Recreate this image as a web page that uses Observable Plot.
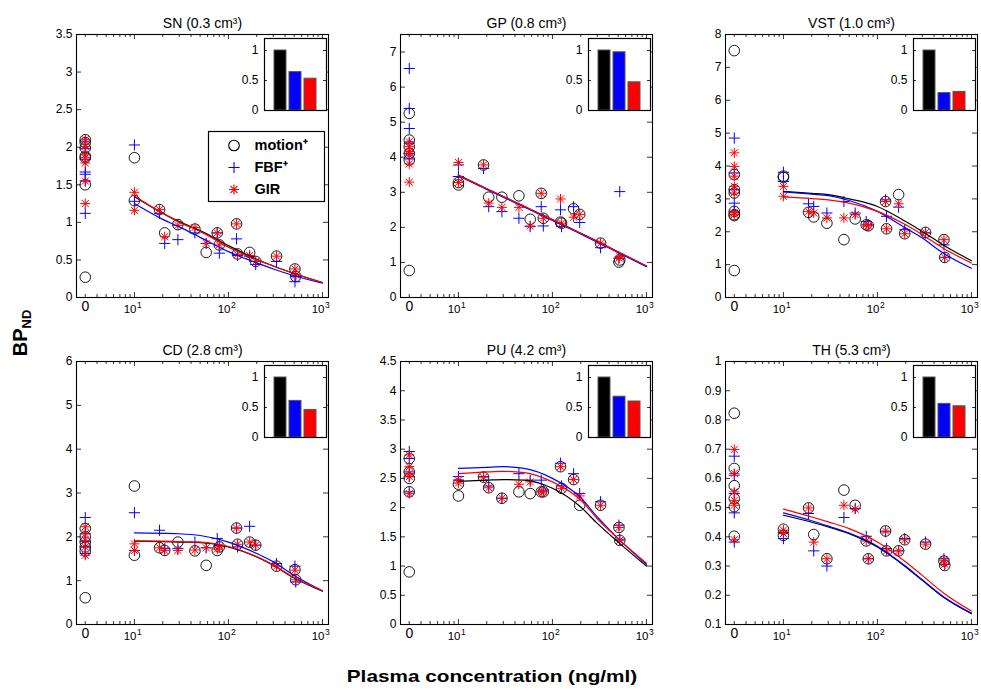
<!DOCTYPE html>
<html><head><meta charset="utf-8">
<script src="https://cdn.jsdelivr.net/npm/d3@7"></script>
<script src="https://cdn.jsdelivr.net/npm/@observablehq/plot@0.6"></script>
<style>
body{margin:0;background:#fff;}
#fig{position:relative;width:981px;height:695px;font-family:"Liberation Sans",Arial,Helvetica,sans-serif;color:#000;}
.ax{position:absolute;font-weight:bold;white-space:nowrap;line-height:20px;}
</style></head><body><div id="fig"></div>
<script>
// ---------- data ----------
const panelNames = ["SN", "GP", "VST", "CD", "PU", "TH"];
const panelVolumes = ["0.3", "0.8", "1.0", "2.8", "4.2", "5.3"];
const yMin = [0, 0, 0, 0, 0, 0.1];
const yMax = [3.5, 7.5, 8, 6, 4.5, 1];
const yTicks = [
  [0, 0.5, 1, 1.5, 2, 2.5, 3, 3.5],
  [0, 1, 2, 3, 4, 5, 6, 7],
  [0, 1, 2, 3, 4, 5, 6, 7, 8],
  [0, 1, 2, 3, 4, 5, 6],
  [0, 0.5, 1, 1.5, 2, 2.5, 3, 3.5, 4, 4.5],
  [0.1, 0.2, 0.3, 0.4, 0.5, 0.6, 0.7, 0.8, 0.9, 1]
];
const zeroAt = 3;                 // where the "0" (baseline) column sits on the log axis
const zeroLabel = "0";
const decadeTicks = [10, 100, 1000];
const decadeBase = "10";
const decadeExps = ["1", "2", "3"];
const minorTicks = [3, 4, 5, 6, 7, 8, 9, 20, 30, 40, 50, 60, 70, 80, 90, 200, 300, 400, 500, 600, 700, 800, 900];

const methods = ["motion", "FBF", "GIR"];
const legendLabels = ["motion⁺", "FBF⁺", "GIR"];
const methodColors = ["#000000", "#0000ff", "#ff0000"];

// post-dose plasma concentrations (ng/ml)
const conc = [10, 10, 18.5, 21, 29, 44, 58, 76, 80, 122, 125, 168, 195, 325, 510, 520];
// x positions where the fitted curves were read
const curveX = [10, 20, 30, 50, 100, 200, 300, 500, 1000];

// SN
const SN_base_motion = [2.10, 2.06, 1.99, 1.88, 1.86, 1.50, 0.27];
const SN_base_FBF = [2.08, 1.98, 1.84, 1.67, 1.64, 1.55, 1.12];
const SN_base_GIR = [2.10, 2.01, 1.90, 1.86, 1.79, 1.55, 1.25];
const SN_motion = [1.29, 1.86, 1.17, 0.86, 0.97, 0.91, 0.60, 0.86, 0.70, 0.98, 0.58, 0.60, 0.48, 0.55, 0.38, 0.28];
const SN_FBF = [1.28, 2.03, 1.12, 0.72, 0.77, 0.86, 0.72, 0.86, 0.59, 0.78, 0.56, 0.55, 0.44, 0.48, 0.21, 0.28];
const SN_GIR = [1.16, 1.40, 1.17, 0.81, 0.96, 0.93, 0.72, 0.86, 0.70, 0.98, 0.57, 0.56, 0.48, 0.55, 0.38, 0.30];
const SN_fit_motion = [1.34, 1.12, 1.01, 0.89, 0.69, 0.51, 0.42, 0.32, 0.20];
const SN_fit_FBF = [1.25, 1.04, 0.94, 0.80, 0.61, 0.46, 0.38, 0.29, 0.19];
const SN_fit_GIR = [1.35, 1.12, 1.00, 0.88, 0.67, 0.50, 0.42, 0.32, 0.20];

// GP
const GP_base_motion = [5.25, 4.49, 4.30, 4.11, 3.92, 0.77];
const GP_base_FBF = [6.53, 5.39, 4.82, 4.40, 4.11, 3.95];
const GP_base_GIR = [4.44, 4.30, 4.16, 4.06, 3.81, 3.29];
const GP_motion = [3.21, 3.28, 3.78, 2.86, 2.86, 2.90, 2.23, 2.97, 2.26, 2.15, 2.12, 2.53, 2.37, 1.55, 1.01, 1.07];
const GP_FBF = [3.45, 3.78, 3.68, 2.59, 2.45, 2.26, 2.02, 2.59, 2.04, 2.50, 2.02, 2.59, 2.14, 1.42, 1.12, 3.02];
const GP_GIR = [3.28, 3.85, 3.78, 2.69, 2.57, 2.57, 2.04, 2.97, 2.26, 2.81, 2.12, 2.29, 2.37, 1.55, 1.12, 1.17];
const GP_fit_motion = [3.49, 3.10, 2.88, 2.60, 2.22, 1.83, 1.60, 1.30, 0.90];
const GP_fit_FBF = [3.47, 3.08, 2.86, 2.58, 2.20, 1.81, 1.58, 1.28, 0.88];
const GP_fit_GIR = [3.49, 3.10, 2.88, 2.60, 2.22, 1.83, 1.60, 1.30, 0.90];

// VST
const VST_base_motion = [7.51, 3.74, 3.28, 3.18, 2.62, 2.52, 2.49, 0.82];
const VST_base_FBF = [4.85, 3.79, 3.28, 2.87, 2.60];
const VST_base_GIR = [4.40, 3.99, 3.69, 3.38, 3.18, 2.57, 2.52];
const VST_motion = [3.69, 3.65, 2.59, 2.45, 2.26, 1.76, 2.39, 2.21, 2.18, 2.92, 2.09, 3.13, 1.94, 1.98, 1.76, 1.22];
const VST_FBF = [3.81, 3.53, 2.85, 2.77, 2.57, 2.92, 2.57, 2.31, 2.21, 2.97, 2.47, 2.75, 2.06, 1.96, 1.60, 1.22];
const VST_GIR = [3.38, 3.08, 2.62, 2.57, 2.42, 2.42, 2.52, 2.21, 2.18, 2.92, 2.09, 2.85, 1.94, 1.98, 1.76, 1.22];
const VST_fit_motion = [3.23, 3.17, 3.13, 3.00, 2.77, 2.31, 2.01, 1.60, 1.12];
const VST_fit_FBF = [3.21, 3.14, 3.10, 2.95, 2.62, 2.11, 1.81, 1.35, 0.89];
const VST_fit_GIR = [3.06, 3.01, 2.97, 2.87, 2.62, 2.21, 1.91, 1.50, 1.05];

// CD
const CD_base_motion = [2.19, 2.00, 1.88, 1.77, 1.68, 0.61];
const CD_base_FBF = [2.44, 2.07, 1.90, 1.77, 1.62];
const CD_base_GIR = [2.23, 2.07, 1.92, 1.77, 1.58];
const CD_motion = [1.58, 3.16, 1.75, 1.69, 1.88, 1.68, 1.35, 1.69, 1.77, 2.20, 1.83, 1.88, 1.81, 1.33, 1.25, 1.02];
const CD_FBF = [1.69, 2.55, 2.15, 1.73, 1.73, 1.88, 1.75, 1.96, 1.80, 2.20, 1.77, 2.24, 1.81, 1.39, 1.33, 0.97];
const CD_GIR = [1.69, 1.84, 1.75, 1.69, 1.69, 1.70, 1.75, 1.72, 1.77, 2.20, 1.83, 1.88, 1.81, 1.33, 1.24, 1.02];
const CD_fit_motion = [1.90, 1.89, 1.88, 1.87, 1.77, 1.54, 1.35, 1.06, 0.76];
const CD_fit_FBF = [2.09, 2.08, 2.07, 2.03, 1.88, 1.62, 1.43, 1.12, 0.77];
const CD_fit_GIR = [1.91, 1.90, 1.89, 1.88, 1.78, 1.55, 1.36, 1.07, 0.77];

// PU
const PU_base_motion = [2.84, 2.61, 2.50, 2.27, 0.90];
const PU_base_FBF = [2.96, 2.84, 2.61, 2.53, 2.27];
const PU_base_GIR = [2.90, 2.70, 2.58, 2.53, 2.24];
const PU_motion = [2.40, 2.20, 2.52, 2.34, 2.16, 2.27, 2.24, 2.27, 2.27, 2.70, 2.33, 2.48, 2.04, 2.04, 1.66, 1.44];
const PU_FBF = [2.53, 2.47, 2.53, 2.37, 2.16, 2.58, 2.47, 2.47, 2.30, 2.76, 2.37, 2.58, 2.24, 2.10, 1.70, 1.46];
const PU_GIR = [2.47, 2.42, 2.52, 2.34, 2.16, 2.40, 2.44, 2.27, 2.27, 2.70, 2.33, 2.48, 2.20, 2.04, 1.66, 1.44];
const PU_fit_motion = [2.45, 2.47, 2.48, 2.47, 2.33, 2.01, 1.73, 1.41, 1.00];
const PU_fit_FBF = [2.67, 2.69, 2.70, 2.67, 2.50, 2.17, 1.84, 1.47, 1.03];
const PU_fit_GIR = [2.58, 2.61, 2.62, 2.60, 2.44, 2.13, 1.81, 1.47, 1.05];

// TH
const TH_base_motion = [0.823, 0.634, 0.575, 0.531, 0.503, 0.402];
const TH_base_FBF = [0.676, 0.611, 0.548, 0.482, 0.382];
const TH_base_GIR = [0.699, 0.617, 0.554, 0.525, 0.508, 0.390];
const TH_motion = [0.426, 0.405, 0.499, 0.408, 0.325, 0.560, 0.508, 0.386, 0.325, 0.420, 0.352, 0.352, 0.390, 0.375, 0.317, 0.302];
const TH_FBF = [0.394, 0.415, 0.480, 0.352, 0.300, 0.466, 0.497, 0.402, 0.325, 0.417, 0.360, 0.352, 0.394, 0.382, 0.325, 0.306];
const TH_GIR = [0.423, 0.411, 0.499, 0.382, 0.325, 0.508, 0.495, 0.386, 0.325, 0.420, 0.352, 0.352, 0.390, 0.375, 0.320, 0.306];
const TH_fit_motion = [0.474, 0.450, 0.434, 0.411, 0.365, 0.297, 0.251, 0.194, 0.137];
const TH_fit_FBF = [0.482, 0.455, 0.437, 0.413, 0.368, 0.299, 0.253, 0.196, 0.139];
const TH_fit_GIR = [0.495, 0.468, 0.451, 0.428, 0.382, 0.314, 0.268, 0.209, 0.146];

// inset bars (relative values)
const insetTicks = [0, 0.5, 1];
const inset_motion = [1, 1, 1, 1, 1, 1];
const inset_FBF = [0.64, 0.97, 0.29, 0.61, 0.68, 0.56];
const inset_GIR = [0.53, 0.47, 0.31, 0.46, 0.60, 0.52];

// ---------- assemble tables ----------
const baseSets = [
  [SN_base_motion, SN_base_FBF, SN_base_GIR], [GP_base_motion, GP_base_FBF, GP_base_GIR],
  [VST_base_motion, VST_base_FBF, VST_base_GIR], [CD_base_motion, CD_base_FBF, CD_base_GIR],
  [PU_base_motion, PU_base_FBF, PU_base_GIR], [TH_base_motion, TH_base_FBF, TH_base_GIR]
];
const postSets = [
  [SN_motion, SN_FBF, SN_GIR], [GP_motion, GP_FBF, GP_GIR], [VST_motion, VST_FBF, VST_GIR],
  [CD_motion, CD_FBF, CD_GIR], [PU_motion, PU_FBF, PU_GIR], [TH_motion, TH_FBF, TH_GIR]
];
const fitSets = [
  [SN_fit_motion, SN_fit_FBF, SN_fit_GIR], [GP_fit_motion, GP_fit_FBF, GP_fit_GIR],
  [VST_fit_motion, VST_fit_FBF, VST_fit_GIR], [CD_fit_motion, CD_fit_FBF, CD_fit_GIR],
  [PU_fit_motion, PU_fit_FBF, PU_fit_GIR], [TH_fit_motion, TH_fit_FBF, TH_fit_GIR]
];
const insetSets = [inset_motion, inset_FBF, inset_GIR];

// ---------- symbols ----------
const symPlus = {draw(ctx, size) {
  const r = Math.sqrt(size / Math.PI);
  ctx.moveTo(-r, 0); ctx.lineTo(r, 0); ctx.moveTo(0, -r); ctx.lineTo(0, r);
}};
const symStar = {draw(ctx, size) {
  const r = Math.sqrt(size / Math.PI), d = r * Math.SQRT1_2;
  ctx.moveTo(-r, 0); ctx.lineTo(r, 0); ctx.moveTo(0, -r); ctx.lineTo(0, r);
  ctx.moveTo(-d, -d); ctx.lineTo(d, d); ctx.moveTo(-d, d); ctx.lineTo(d, -d);
}};
const methodSymbols = ["circle", symPlus, symStar];
const methodR = [5.3, 5.6, 5];
const methodSW = [0.9, 1, 1];

// ---------- layout ----------
const FONT = "'Liberation Sans', Arial, Helvetica, sans-serif";
const W = 252, H = 263;
const ML = 40, MR = 6, MT = 30, MB = 28;
const colLeft = [76, 400, 725];
const rowTop = [34, 361];
const fig = document.getElementById("fig");
const fmt = d => String(d);

function place(el, left, top) {
  el.style.position = "absolute";
  el.style.left = left + "px";
  el.style.top = top + "px";
  fig.appendChild(el);
}

panelNames.forEach((name, p) => {
  const col = p % 3, row = Math.floor(p / 3);
  const pts = [];
  methods.forEach((m, k) => {
    baseSets[p][k].forEach(v => pts.push({x: zeroAt, y: v, k}));
    postSets[p][k].forEach((v, i) => pts.push({x: conc[i], y: v, k}));
  });
  const marks = [
    Plot.frame({fill: "white"}),
    // inward ticks
    Plot.ruleY(yTicks[p], {y: d => d, insetRight: W - 5, strokeWidth: 0.8}),
    Plot.ruleY(yTicks[p], {y: d => d, insetLeft: W - 5, strokeWidth: 0.8}),
    Plot.ruleX(decadeTicks, {x: d => d, insetTop: H - 5, strokeWidth: 0.8}),
    Plot.ruleX(decadeTicks, {x: d => d, insetBottom: H - 5, strokeWidth: 0.8}),
    Plot.ruleX(minorTicks, {x: d => d, insetTop: H - 3, strokeWidth: 0.8}),
    Plot.ruleX(minorTicks, {x: d => d, insetBottom: H - 3, strokeWidth: 0.8}),
    Plot.axisY(yTicks[p], {tickSize: 0, tickPadding: 4, fontSize: 12, tickFormat: fmt, label: null}),
    // x tick labels: "0" for the baseline column, 10^n for decades
    Plot.text([zeroAt], {x: d => d, text: () => zeroLabel, frameAnchor: "bottom", dy: 13, fontSize: 14}),
    Plot.text(decadeTicks, {x: d => d, text: () => decadeBase, frameAnchor: "bottom", dy: 15, dx: 2, textAnchor: "end", fontSize: 11.5}),
    Plot.text(decadeTicks, {x: d => d, text: (d, i) => decadeExps[i], frameAnchor: "bottom", dy: 10.5, dx: 2.5, textAnchor: "start", fontSize: 8.5})
  ];
  methods.forEach((m, k) => {
    marks.push(Plot.dot(pts.filter(d => d.k === k), {
      x: "x", y: "y", symbol: methodSymbols[k], r: methodR[k],
      stroke: methodColors[k], strokeWidth: methodSW[k], fill: "none"
    }));
  });
  methods.forEach((m, k) => {
    const vals = fitSets[p][k];
    marks.push(Plot.line(curveX, {x: d => d, y: (d, i) => vals[i], curve: "monotone-x",
      stroke: methodColors[k], strokeWidth: 1.2}));
  });
  marks.push(Plot.frame({stroke: "black", strokeWidth: 1.1}));
  marks.push(Plot.text([`${name} (${panelVolumes[p]} cm³)`], {text: d => d, frameAnchor: "top", dy: -16, fontSize: 14}));

  const chart = Plot.plot({
    width: ML + W + MR, height: MT + H + MB,
    marginLeft: ML, marginRight: MR, marginTop: MT, marginBottom: MB,
    style: {fontFamily: FONT, fontSize: "12px", background: "transparent", overflow: "visible"},
    x: {type: "log", domain: [2.42, 1160], axis: null, label: null},
    y: {domain: [yMin[p], yMax[p]], axis: null, label: null},
    marks
  });
  place(chart, colLeft[col] - ML, rowTop[row] - MT);

  // inset bar chart
  const IW = 62, IH = 72, IML = 26;
  const bars = methods.map((m, k) => ({m, v: insetSets[k][p], c: methodColors[k]}));
  const inset = Plot.plot({
    width: IML + IW + 1, height: IH + 2,
    marginLeft: IML, marginRight: 1, marginTop: 1, marginBottom: 1,
    style: {fontFamily: FONT, fontSize: "12px", background: "transparent", overflow: "visible"},
    x: {type: "band", domain: methods, paddingInner: 0.2, paddingOuter: 0.54, axis: null},
    y: {domain: [0, 1.2], axis: null},
    marks: [
      Plot.frame({fill: "white"}),
      Plot.barY(bars, {x: "m", y: "v", fill: "c", stroke: "#555", strokeWidth: 1}),
      Plot.ruleY(insetTicks, {y: d => d, insetRight: IW - 3, strokeWidth: 0.8}),
      Plot.ruleY(insetTicks, {y: d => d, insetLeft: IW - 3, strokeWidth: 0.8}),
      Plot.axisY(insetTicks, {tickSize: 0, tickPadding: 6, fontSize: 12, tickFormat: fmt, label: null}),
      Plot.frame({stroke: "black", strokeWidth: 1.2})
    ]
  });
  place(inset, colLeft[col] + W - 2 - IW - IML, rowTop[row] + 4 - 1);
});

// legend in first panel
const legItems = methods.map((m, k) => ({m, k, label: legendLabels[k], c: methodColors[k]}));
const legendMarks = [Plot.frame({fill: "white", stroke: "black", strokeWidth: 1.2})];
methods.forEach((m, k) => {
  legendMarks.push(Plot.dot([legItems[k]], {y: "m", frameAnchor: "left", dx: 25.5, symbol: methodSymbols[k],
    r: methodR[k], stroke: "c", strokeWidth: 1.1, fill: "none"}));
});
legendMarks.push(Plot.text(legItems, {y: "m", text: "label", frameAnchor: "left", dx: 46, textAnchor: "start",
  fontWeight: "bold", fontSize: 14.5}));
const legend = Plot.plot({
  width: 118, height: 72, margin: 1,
  style: {fontFamily: FONT, fontSize: "14px", background: "transparent", overflow: "visible"},
  x: {axis: null},
  y: {type: "point", domain: methods, insetTop: 13.5, insetBottom: 11.5, padding: 0, axis: null},
  color: {type: "identity"},
  marks: legendMarks
});
place(legend, 207, 130);

// axis titles
const xt = document.createElement("div");
xt.className = "ax";
xt.style.cssText += "left:492px;top:667px;font-size:17px;transform:translateX(-50%) scaleX(1.22);";
xt.textContent = "Plasma concentration (ng/ml)";
fig.appendChild(xt);

const yt = document.createElement("div");
yt.className = "ax";
yt.style.cssText += "left:23px;top:333px;font-size:20px;transform:translate(-50%,-50%) rotate(-90deg);";
yt.innerHTML = "BP<sub style='font-size:13px;vertical-align:-4px'>ND</sub>";
fig.appendChild(yt);
</script></body></html>
